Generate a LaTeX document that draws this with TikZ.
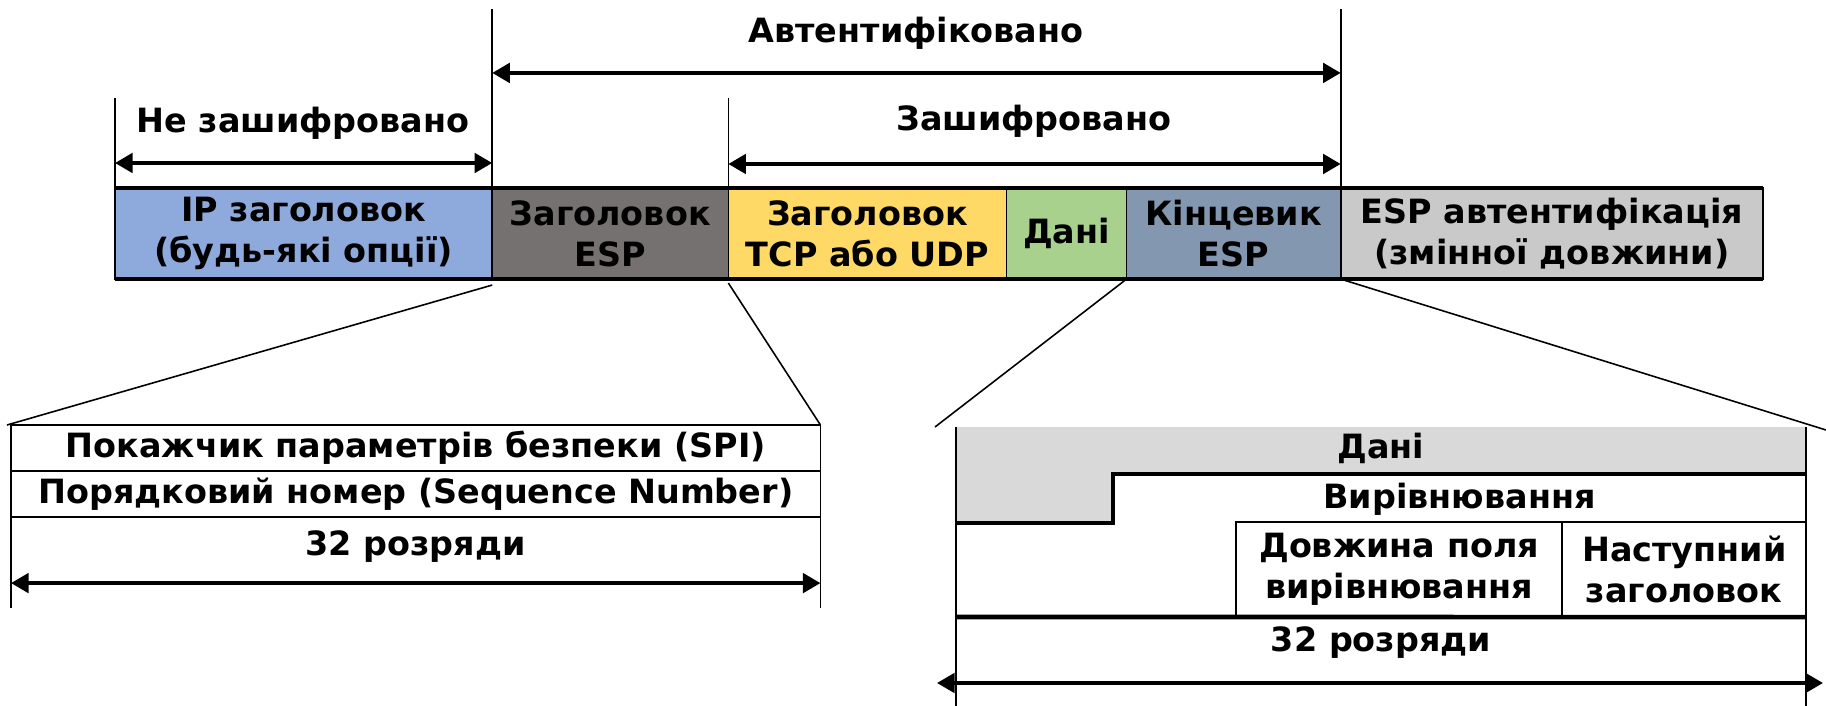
\documentclass[tikz,border=0pt]{standalone}
\usepackage{fontspec}
\setmainfont{DejaVu Sans}
\usetikzlibrary{positioning,arrows.meta}

\definecolor{ipblue}{HTML}{8EA9DB}
\definecolor{espgray}{HTML}{767171}
\definecolor{tcpyellow}{HTML}{FFD966}
\definecolor{datagreen}{HTML}{A9D18E}
\definecolor{trailblue}{HTML}{8497B0}
\definecolor{authgray}{HTML}{C9C9C9}
\definecolor{padgray}{HTML}{D9D9D9}

\tikzset{
  lbl/.style={font=\fontsize{9.5}{11.7}\selectfont\bfseries, inner sep=0pt},
  field/.style={lbl, draw=black, line width=0.45pt, outer sep=0pt,
    minimum height=0.91cm, align=center, anchor=north west},
  cell/.style={lbl, draw=black, line width=0.45pt, outer sep=0pt,
    align=center, anchor=north west},
  guide/.style={line width=0.45pt},
  heavy/.style={line width=1.3pt},
  span/.style={line width=1.1pt,
    {Triangle[length=5pt,width=5.5pt]}-{Triangle[length=5pt,width=5.5pt]}},
}

\begin{document}
\begin{tikzpicture}[x=0.01cm,y=-0.01cm]
\useasboundingbox (0,0) rectangle (1826,706);

% packet
\node[field, fill=ipblue, minimum width=3.77cm] (ip) at (115,188) {IP заголовок\\(будь-які опції)};
\node[field, fill=espgray, minimum width=2.36cm] (esph) at (ip.north east) {Заголовок\\ESP};
\node[field, fill=tcpyellow, minimum width=2.78cm] (tcp) at (esph.north east) {Заголовок\\TCP або UDP};
\node[field, fill=datagreen, minimum width=1.20cm] (data) at (tcp.north east) {Дані};
\node[field, fill=trailblue, minimum width=2.14cm] (trail) at (data.north east) {Кінцевик\\ESP};
\node[field, fill=authgray, minimum width=4.22cm] (auth) at (trail.north east) {ESP автентифікація\\(змінної довжини)};
\draw[line width=1pt] (ip.north west) -- (auth.north east);
\draw[line width=1pt] (ip.south west) -- (auth.south east);

% ranges
\draw[guide] (ip.north west) -- ++(0,-90);
\draw[guide] (esph.north west) -- ++(0,-179);
\draw[guide] (tcp.north west) -- ++(0,-90);
\draw[guide] (auth.north west) -- ++(0,-179);
\draw[span] ([yshift=0.25cm]ip.north west) -- ([yshift=0.25cm]esph.north west);
\draw[span] ([yshift=1.15cm]esph.north west) -- ([yshift=1.15cm]auth.north west);
\draw[span] ([yshift=0.24cm]tcp.north west) -- ([yshift=0.24cm]auth.north west);
\node[lbl] (plain) at (303,123) {Не зашифровано};
\node[lbl] (authd) at (916,33) {Автентифіковано};
\node[lbl] (enc) at (1034,121) {Зашифровано};

% ESP header
\node[cell, minimum width=8.09cm, minimum height=0.46cm] (spi) at (11,425) {Покажчик параметрів безпеки (SPI)};
\node[cell, minimum width=8.09cm, minimum height=0.46cm] (seq) at (spi.south west) {Порядковий номер (Sequence Number)};
\draw[guide] (seq.south west) -- ++(0,91);
\draw[guide] (seq.south east) -- ++(0,91);
\node[lbl] (bitsl) at (415.5,547) {32 розряди};
\draw[span] ([yshift=-0.66cm]seq.south west) -- ([yshift=-0.66cm]seq.south east);

% ESP trailer
\coordinate (pnw) at (956,427);
\coordinate (pne) at (1806,427);
\fill[padgray] (pnw) -- (pne) -- (1806,474) -- (1113,474) -- (1113,523) -- (956,523) -- cycle;
\draw[heavy] (1806,474) -- (1113,474) -- (1113,523) -- (956,523);
\node[cell, minimum width=3.26cm, minimum height=0.95cm] (padlen) at (1236,522) {Довжина поля\\вирівнювання};
\node[cell, minimum width=2.44cm, minimum height=0.95cm] (nexthdr) at (padlen.north east) {Наступний\\заголовок};
\draw[heavy] (956,617) -- (nexthdr.south east);
\draw[guide] (pnw) -- (956,706);
\draw[guide] (pne) -- (1806,706);
\node[lbl] (datar) at (1381,448) {Дані};
\node[lbl] (pad) at (1459.5,499) {Вирівнювання};
\node[lbl] (bitsr) at (1381,643) {32 розряди};
\draw[span] (937,683) -- (1823,683);

% zoom lines
\draw[guide] ([yshift=-0.06cm]esph.south west) -- ([xshift=-0.04cm]spi.north west);
\draw[guide] ([yshift=-0.04cm]tcp.south west) -- (spi.north east);
\draw[guide] (trail.south west) -- ([xshift=-0.21cm]pnw);
\draw[guide] (auth.south west) -- ([xshift=0.2cm,yshift=-0.03cm]pne);
\end{tikzpicture}
\end{document}
